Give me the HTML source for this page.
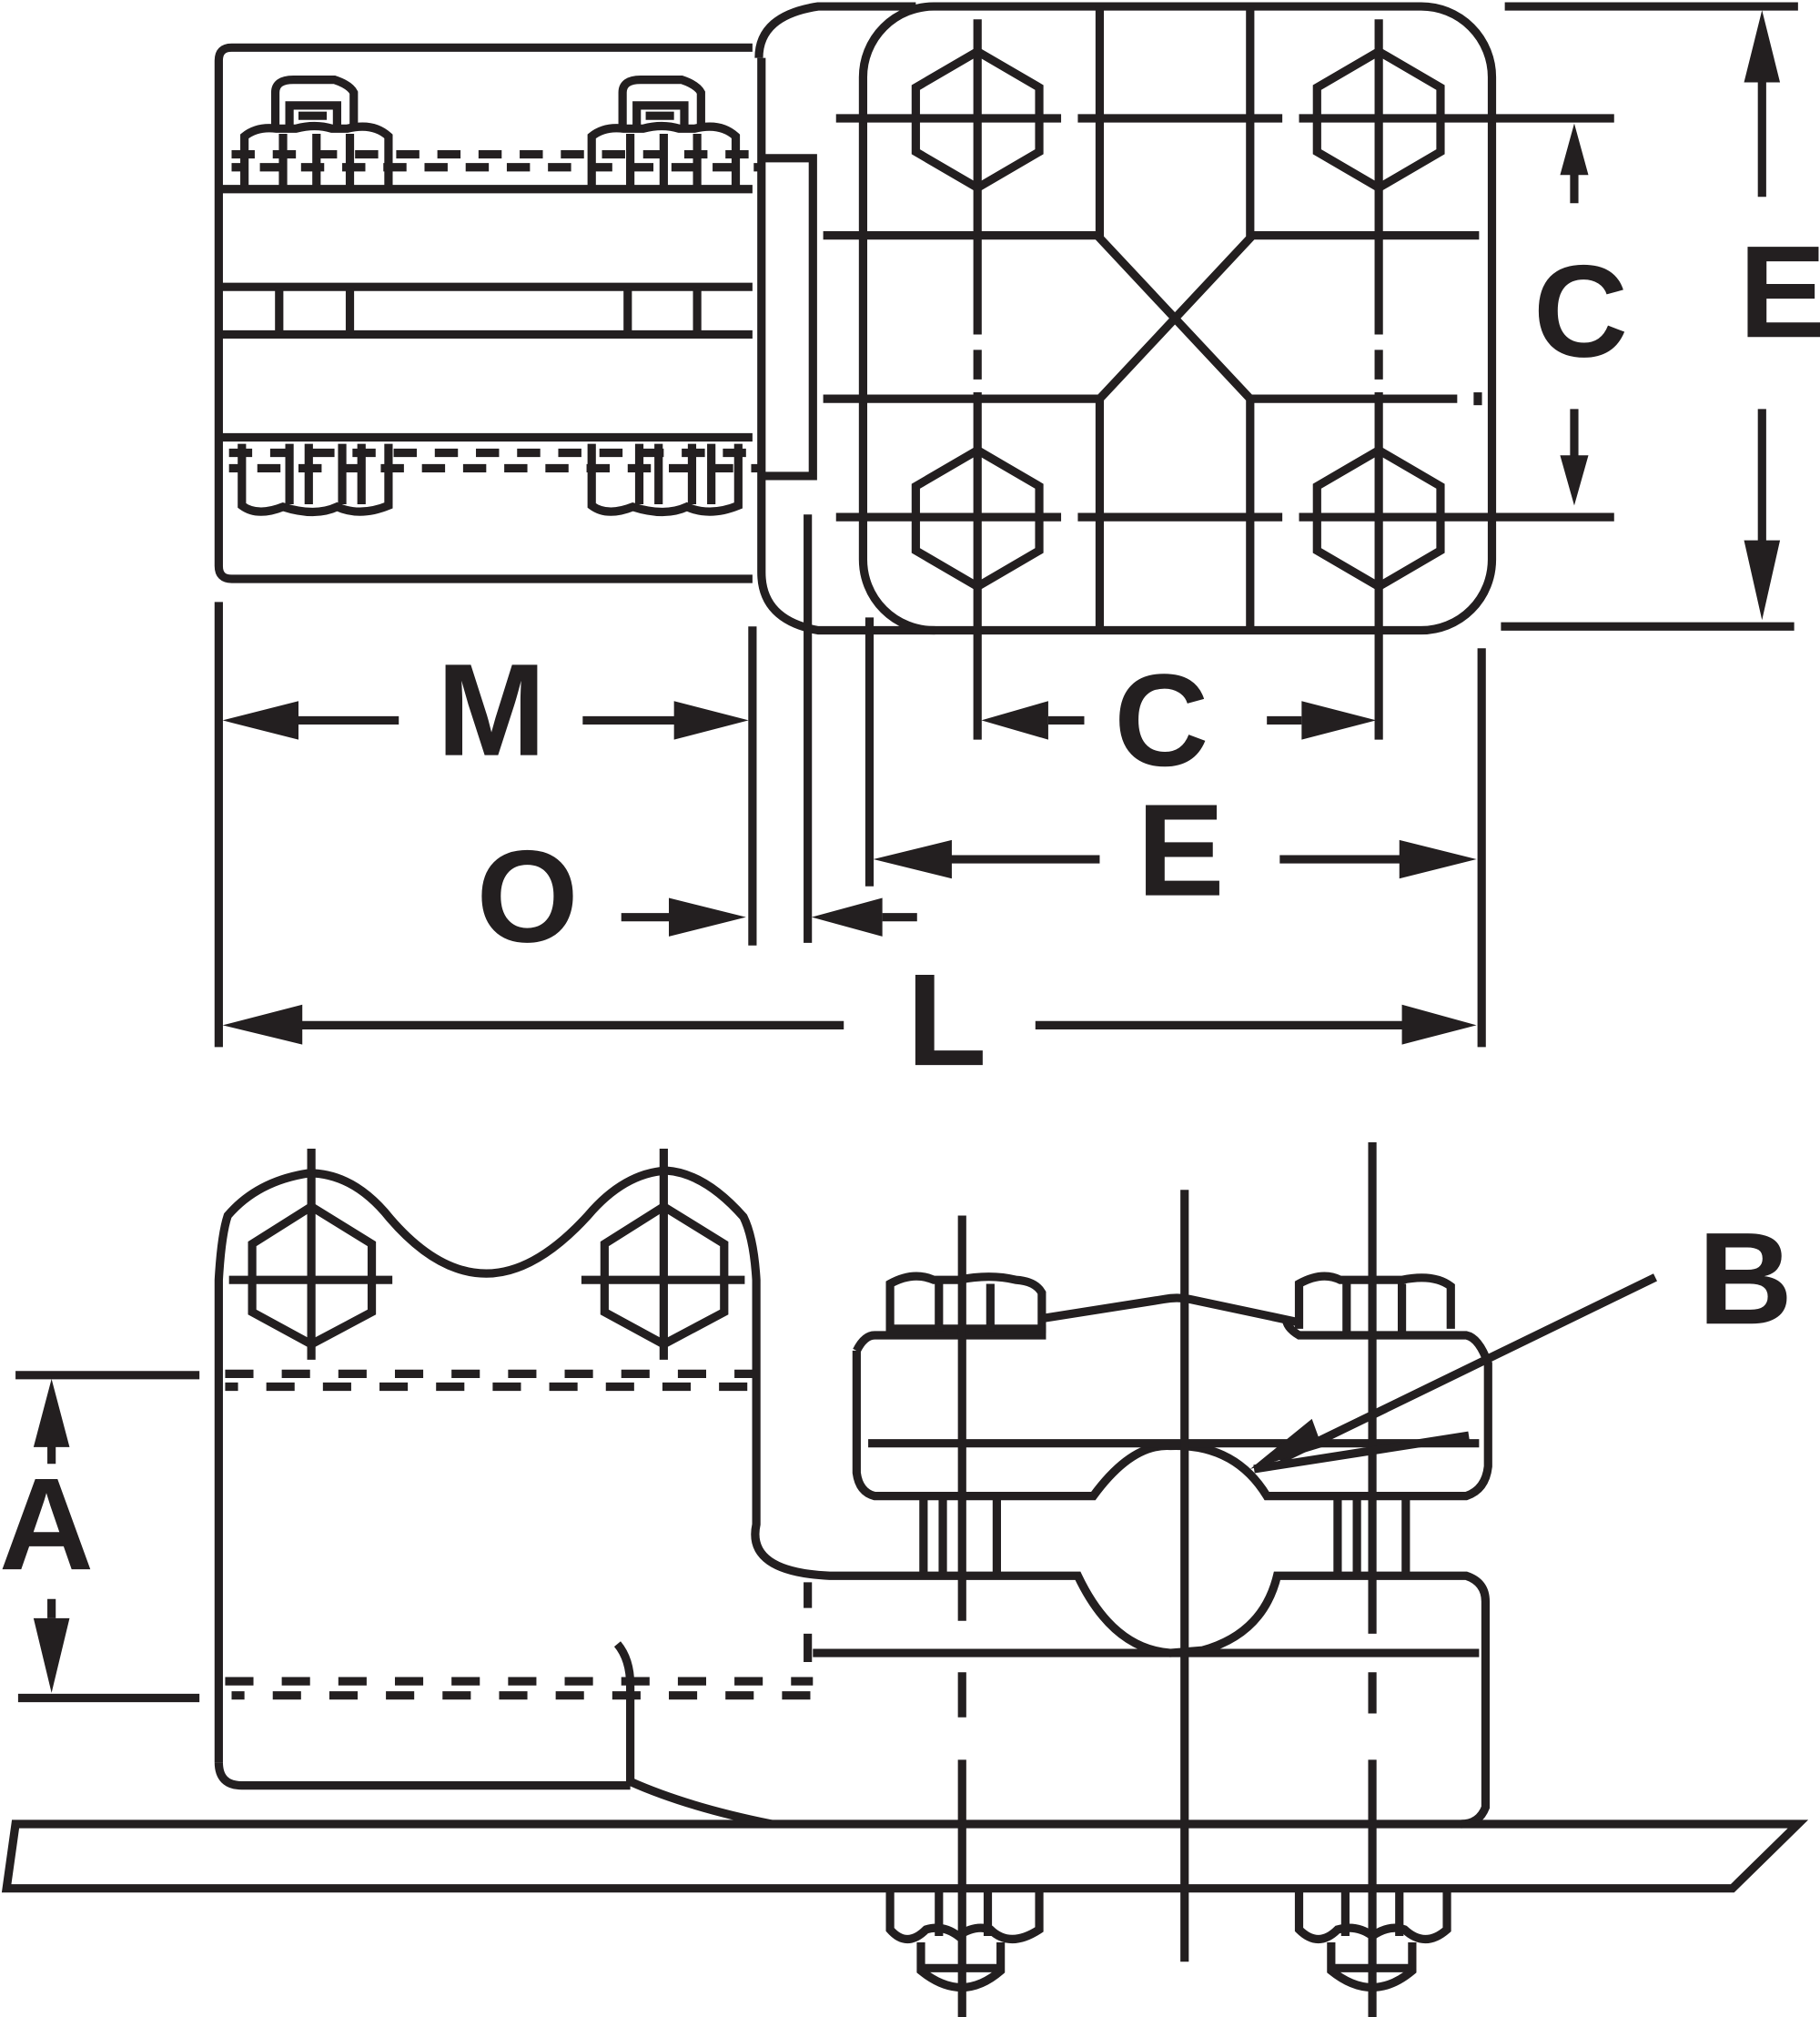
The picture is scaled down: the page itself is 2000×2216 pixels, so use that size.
<!DOCTYPE html>
<html><head><meta charset="utf-8"><style>
html,body{margin:0;padding:0;background:#fff}
svg{display:block}
text{font-family:"Liberation Sans",sans-serif;font-weight:bold;fill:#231f20}
</style></head><body>
<svg width="2000" height="2216" viewBox="0 0 1415 1568" xmlns="http://www.w3.org/2000/svg">
<g fill="none" stroke="#231f20" stroke-width="6.5">
<!-- Top-left view -->
<path d="M585,37 H180 Q170,37 170,47 V440 Q170,450 180,450 H585"/>
<line x1="172" y1="147" x2="585" y2="147"/>
<line x1="172" y1="223" x2="585" y2="223"/>
<line x1="172" y1="260" x2="585" y2="260"/>
<line x1="172" y1="340" x2="585" y2="340"/>
<line x1="217" y1="223" x2="217" y2="260"/><line x1="272" y1="223" x2="272" y2="260"/>
<line x1="488" y1="223" x2="488" y2="260"/><line x1="542" y1="223" x2="542" y2="260"/>
<!-- top bolts -->
<g id="tb">
<path d="M214,98 V72 Q214,62 228,62 H260 Q272,66 275,72 V98"/>
<path d="M225,98 V82 H262 V98"/><line x1="232" y1="90" x2="254" y2="90"/>
<path d="M190,145 V106 Q200,98 215,100 L230,100 Q245,96 258,100 L270,100 Q290,95 302,106 V145"/>
<line x1="220" y1="104" x2="220" y2="145"/><line x1="246" y1="104" x2="246" y2="145"/>
<line x1="272" y1="104" x2="272" y2="145"/>
</g>
<use href="#tb" transform="translate(270,0)"/>
<path d="M180,120 H590" stroke-dasharray="18,14"/>
<path d="M180,130 H590" stroke-dasharray="18,14" stroke-dashoffset="10"/>
<!-- bottom bolts -->
<g id="bb">
<path d="M188,345 V393 Q200,402 220,394 Q245,402 262,394 Q280,402 302,393 V345"/>
<line x1="225" y1="345" x2="225" y2="392"/><line x1="240" y1="345" x2="240" y2="392"/>
<line x1="266" y1="345" x2="266" y2="392"/><line x1="281" y1="345" x2="281" y2="392"/>
</g>
<use href="#bb" transform="translate(272,0)"/>
<path d="M178,352 H590" stroke-dasharray="18,14"/>
<path d="M178,364 H590" stroke-dasharray="18,14" stroke-dashoffset="10"/>
<!-- connector -->
<path d="M590,45 Q590,12 636,5 H712"/>
<path d="M592,45 V445 Q592,482 636,490 H727"/>
<path d="M592,123 H632 V370 H592"/>
<!-- right square -->
<rect x="671" y="5" width="489" height="485" rx="55"/>
<path d="M855,5 V185 L972,310 V490 M972,5 V185 L855,310 V490"/>
<line x1="640" y1="183" x2="855" y2="183"/><line x1="972" y1="183" x2="1150" y2="183"/>
<line x1="640" y1="310" x2="855" y2="310"/><line x1="972" y1="310" x2="1133" y2="310"/>
<line x1="1149" y1="305" x2="1149" y2="315"/>
<g id="hx"><polygon points="760,40 808,68 808,118 760,146 712,118 712,68"/></g>
<use href="#hx" transform="translate(312,0)"/>
<use href="#hx" transform="translate(0,310)"/>
<use href="#hx" transform="translate(312,310)"/>
<path d="M650,92 H825 M838,92 H997 M1010,92 H1255"/>
<path d="M650,402 H825 M838,402 H997 M1010,402 H1255"/>
<path d="M760,15 V260 M760,272 V295 M760,305 V575"/>
<path d="M1072,15 V260 M1072,272 V295 M1072,305 V575"/>
<!-- dimensions top -->
<line x1="1170" y1="5" x2="1398" y2="5"/><line x1="1167" y1="487" x2="1395" y2="487"/>
<path d="M1370,60 V153 M1370,318 V425"/>
<path d="M1224,130 V158 M1224,318 V360"/>
<line x1="170" y1="468" x2="170" y2="814"/>
<line x1="585" y1="487" x2="585" y2="735"/>
<line x1="628" y1="400" x2="628" y2="733"/>
<line x1="676" y1="480" x2="676" y2="689"/>
<line x1="1152" y1="504" x2="1152" y2="814"/>
<path d="M228,560 H310 M453,560 H527"/>
<path d="M815,560 H843 M985,560 H1012"/>
<path d="M738,668 H855 M995,668 H1090"/>
<path d="M483,713 H520 M686,713 H713"/>
<path d="M232,797 H656 M805,797 H1092"/>
<!-- bottom view left body -->
<path d="M170,1370 V995 Q172,960 177,945 Q200,918 240,912 Q275,912 303,947 Q340,990 378,990 Q416,990 457,945 Q485,912 518,910 Q548,912 578,946 Q586,962 588,995 V1185 Q580,1222 645,1225 H838 Q865,1282 910,1285 L935,1283 Q982,1270 993,1225 H1140 Q1155,1230 1155,1245 V1405 Q1150,1418 1136,1418"/>
<path d="M170,1370 Q170,1388 188,1388 H490"/>
<path d="M490,1385 Q535,1405 600,1418"/>
<path d="M490,1388 V1310 Q490,1290 480,1278"/>
<path d="M175,1068 H588" stroke-dasharray="22,22"/>
<path d="M175,1078 H588" stroke-dasharray="22,22" stroke-dashoffset="12"/>
<path d="M175,1307 H632" stroke-dasharray="22,22"/>
<path d="M180,1318 H632" stroke-dasharray="22,22" stroke-dashoffset="12"/>
<g id="bh"><polygon points="242,938 289,967 289,1020 242,1045 196,1020 196,967"/>
<line x1="242" y1="893" x2="242" y2="1057"/><line x1="178" y1="995" x2="305" y2="995"/></g>
<use href="#bh" transform="translate(274,0)"/>
<!-- right clamp -->
<path d="M666,1050 Q672,1038 680,1038 H810 V1030 M666,1050 V1145 Q668,1160 680,1163 H850 Q880,1122 910,1124 Q960,1122 985,1163 H1140 Q1155,1158 1157,1140 V1060 Q1150,1040 1140,1038 H1010 Q1000,1032 1000,1025"/>
<line x1="675" y1="1122" x2="1150" y2="1122"/>
<path d="M692,1033 V998 Q710,988 726,995 H745 Q770,990 790,995 Q805,996 810,1005 V1033 Z"/>
<line x1="730" y1="998" x2="730" y2="1035"/><line x1="770" y1="998" x2="770" y2="1035"/>
<path d="M1010,1033 V998 Q1028,988 1042,995 H1090 Q1115,990 1128,1000 V1033"/>
<line x1="1047" y1="998" x2="1047" y2="1035"/><line x1="1090" y1="998" x2="1090" y2="1035"/>
<path d="M810,1025 L905,1010 Q915,1008 925,1010 L1010,1028"/>
<path d="M718,1165 V1222 M733,1165 V1222 M775,1165 V1222"/>
<path d="M1040,1165 V1222 M1055,1165 V1222 M1093,1165 V1222"/>
<line x1="632" y1="1285" x2="1150" y2="1285"/>
<path d="M628,1230 V1250 M628,1270 V1292"/>
<path d="M748,945 V1260 M748,1300 V1335 M748,1368 V1568"/>
<line x1="921" y1="925" x2="921" y2="1525"/>
<path d="M1067,888 V1270 M1067,1300 V1332 M1067,1368 V1568"/>
<!-- B leader -->
<path d="M1287,993 L995,1135"/>
<path d="M975,1142 L1142,1116"/>
<!-- plate -->
<polygon points="12,1418 1398,1418 1347,1468 5,1468"/>
<!-- lower bolts -->
<path d="M692,1470 V1500 Q705,1515 720,1500 Q733,1496 745,1505 Q758,1496 770,1500 Q785,1515 808,1500 V1470"/>
<line x1="730" y1="1470" x2="730" y2="1505"/><line x1="768" y1="1470" x2="768" y2="1505"/>
<path d="M716,1510 V1532 Q748,1558 778,1532 V1510"/><line x1="716" y1="1530" x2="778" y2="1530"/>
<path d="M1010,1470 V1500 Q1025,1515 1040,1500 Q1055,1496 1067,1505 Q1080,1496 1092,1500 Q1108,1515 1125,1500 V1470"/>
<line x1="1046" y1="1470" x2="1046" y2="1505"/><line x1="1088" y1="1470" x2="1088" y2="1505"/>
<path d="M1035,1510 V1532 Q1067,1558 1098,1532 V1510"/><line x1="1035" y1="1530" x2="1098" y2="1530"/>
<!-- A dims -->
<line x1="12" y1="1069" x2="155" y2="1069"/>
<line x1="14" y1="1320" x2="155" y2="1320"/>
<path d="M40,1120 V1138 M40,1243 V1258"/>
</g>
<g fill="#231f20">
<polygon points="1370,8 1356,64 1384,64"/><polygon points="1370,482 1356,420 1384,420"/>
<polygon points="1224,96 1213,136 1235,136"/><polygon points="1224,393 1213,354 1235,354"/>
<polygon points="173,560 232,545 232,575"/><polygon points="582,560 524,545 524,575"/>
<polygon points="763,560 815,545 815,575"/><polygon points="1070,560 1012,545 1012,575"/>
<polygon points="679,668 740,653 740,683"/><polygon points="1148,668 1088,653 1088,683"/>
<polygon points="580,713 520,698 520,728"/><polygon points="631,713 686,698 686,728"/>
<polygon points="173,797 235,781 235,812"/><polygon points="1148,797 1090,781 1090,812"/>
<polygon points="40,1072 26,1125 54,1125"/><polygon points="40,1316 26,1258 54,1258"/>
<polygon points="972,1142 1020,1103 1028,1125"/>
</g>
<g font-size="102" text-anchor="middle">
<text x="1386" y="262">E</text>
<text x="1229" y="277">C</text>
<text x="382" y="587">M</text>
<text x="903" y="595">C</text>
<text x="918" y="696">E</text>
<text x="410" y="732">O</text>
<text x="736" y="828">L</text>
<text x="1357" y="1029">B</text>
<text x="36" y="1220">A</text>
</g>
</svg>
</body></html>
